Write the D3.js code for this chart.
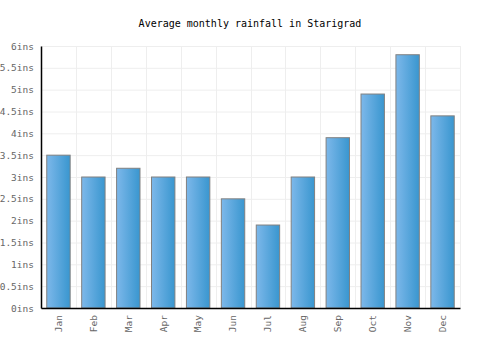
<html>
  <head>
    <script src="https://cdn.jsdelivr.net/npm/d3@7"></script>
    <style>
      body { margin: 0; background: #fff; }
      text { font-family: "DejaVu Sans Mono", monospace; }
      .gridlines line { stroke: #eeeeee; }
      .gridlines .domain { stroke: none; }
    </style>
  </head>
  <body>
    <svg id="chart" width="500" height="350"></svg>
    <script>
      const months = ["Jan", "Feb", "Mar", "Apr", "May", "Jun", "Jul", "Aug", "Sep", "Oct", "Nov", "Dec"];
      const rainfall = [3.5, 3.0, 3.2, 3.0, 3.0, 2.5, 1.9, 3.0, 3.9, 4.9, 5.8, 4.4];
      const yTicks = [0, 0.5, 1, 1.5, 2, 2.5, 3, 3.5, 4, 4.5, 5, 5.5, 6];
      const title = "Average monthly rainfall in Starigrad";

      const svg = d3.select("svg#chart");
      const margins = { top: 46, bottom: 42, left: 41, right: 40 };
      const chartWidth = 500 - margins.left - margins.right;
      const chartHeight = 350 - margins.top - margins.bottom;

      const defs = svg.append("defs");
      const grad = defs.append("linearGradient").attr("id", "barGrad")
        .attr("x1", "0%").attr("x2", "100%").attr("y1", "0%").attr("y2", "0%");
      grad.append("stop").attr("offset", "0%").attr("stop-color", "#7db8ea");
      grad.append("stop").attr("offset", "100%").attr("stop-color", "#3996cf");

      svg.append("text")
        .attr("x", 250).attr("y", 27)
        .attr("text-anchor", "middle")
        .style("font-size", "10px")
        .attr("fill", "#000")
        .text(title);

      const chartArea = svg.append("g")
        .attr("transform", `translate(${margins.left},${margins.top})`);

      const xScale = d3.scaleBand().domain(months).range([0, chartWidth]).padding(0);
      const yScale = d3.scaleLinear().domain([0, 6]).range([chartHeight, 0]);

      // gridlines
      const yGrid = d3.axisLeft(yScale).tickValues(yTicks).tickSize(-chartWidth).tickFormat("");
      chartArea.append("g").attr("class", "gridlines").call(yGrid);

      chartArea.append("g").attr("class", "gridlines")
        .selectAll("line")
        .data(months.map((m, i) => i + 1))
        .join("line")
        .attr("x1", (d) => Math.round(d * xScale.bandwidth()) + 0.5)
        .attr("x2", (d) => Math.round(d * xScale.bandwidth()) + 0.5)
        .attr("y1", 0).attr("y2", chartHeight);

      // bars
      const barW = xScale.bandwidth() * 0.67;
      chartArea.selectAll("rect.bar")
        .data(rainfall)
        .join("rect")
        .attr("class", "bar")
        .attr("x", (d, i) => xScale(months[i]) + (xScale.bandwidth() - barW) / 2)
        .attr("y", (d) => yScale(d))
        .attr("width", barW)
        .attr("height", (d) => chartHeight - yScale(d))
        .attr("fill", "url(#barGrad)")
        .attr("stroke", "#808080")
        .attr("stroke-width", 1);

      // axes
      const yAxis = d3.axisLeft(yScale).tickValues(yTicks).tickSize(0).tickPadding(7)
        .tickFormat((d) => d + "ins");
      const yG = chartArea.append("g").call(yAxis);
      yG.select(".domain").attr("stroke", "#000").attr("stroke-width", 1.5);
      yG.selectAll("text").attr("fill", "#666").style("font-size", "9.5px")
        .style("font-family", "DejaVu Sans Mono, monospace");

      const xAxis = d3.axisBottom(xScale).tickSize(0);
      const xG = chartArea.append("g")
        .attr("transform", `translate(0,${chartHeight})`)
        .call(xAxis);
      xG.select(".domain").attr("stroke", "#000").attr("stroke-width", 1.5);
      xG.selectAll("text")
        .attr("fill", "#666")
        .style("font-size", "9.5px")
        .style("font-family", "DejaVu Sans Mono, monospace")
        .attr("transform", "rotate(-90)")
        .attr("text-anchor", "end")
        .attr("x", -7)
        .attr("y", 0)
        .attr("dy", "0.35em");
    </script>
  </body>
</html>
